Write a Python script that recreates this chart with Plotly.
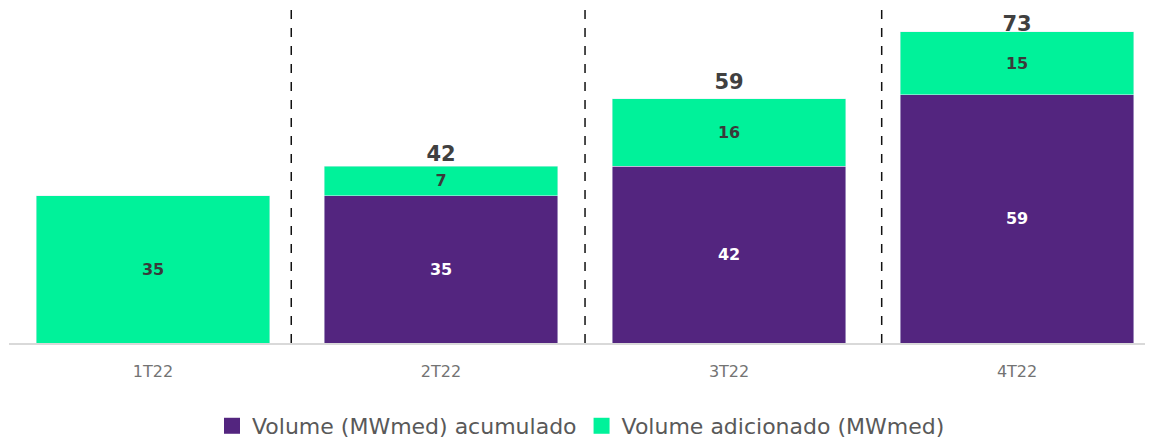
import plotly.graph_objects as go

categories = ["1T22", "2T22", "3T22", "4T22"]
acumulado = [0, 35, 42, 59]
adicionado = [35, 7, 16, 15]
total_labels = [None, 42, 59, 73]
separators = [0.48, 1.5, 2.53]

PURPLE = "#53257F"
GREEN = "#00F29A"
FONT = "DejaVu Sans"

fig = go.Figure()

fig.add_trace(go.Bar(
    x=categories, y=acumulado, marker_color=PURPLE, showlegend=False,
    text=[str(v) if v else "" for v in acumulado], textposition="inside",
    insidetextanchor="middle",
    textfont=dict(color="white", size=16, family=FONT, weight="bold"),
    width=0.81, hoverinfo="skip",
))
fig.add_trace(go.Bar(
    x=categories, y=adicionado, marker_color=GREEN, showlegend=False,
    text=[str(v) for v in adicionado], textposition="inside",
    insidetextanchor="middle",
    textfont=dict(color="#3a3a3a", size=16, family=FONT, weight="bold"),
    width=0.81, hoverinfo="skip",
))
# totals
tx = [c for c, t in zip(categories, total_labels) if t is not None]
ty = [t for t in total_labels if t is not None]
fig.add_trace(go.Scatter(
    x=tx, y=ty, mode="text",
    text=[str(t) for t in ty], textposition="top center",
    textfont=dict(color="#404040", size=21, family=FONT, weight="bold"),
    showlegend=False, hoverinfo="skip", cliponaxis=False,
))
# legend proxies
fig.add_trace(go.Scatter(x=[None], y=[None], mode="markers", name="Volume (MWmed) acumulado",
                         marker=dict(symbol="square", size=20, color=PURPLE)))
fig.add_trace(go.Scatter(x=[None], y=[None], mode="markers", name="Volume adicionado (MWmed)",
                         marker=dict(symbol="square", size=20, color=GREEN)))

for s in separators:
    fig.add_shape(type="line", xref="x", yref="paper", x0=s, x1=s, y0=0, y1=1,
                  line=dict(color="#111111", width=1.5, dash="dash"))

fig.update_layout(
    width=1145, height=435,
    barmode="stack",
    plot_bgcolor="white", paper_bgcolor="white",
    margin=dict(l=1, r=0, t=0, b=100, autoexpand=False),
    font=dict(family=FONT),
    xaxis=dict(
        type="category", range=[-0.5, 3.472],
        showline=True, linecolor="#d9d9d9", linewidth=1.5,
        tickfont=dict(size=16, color="#737373", family=FONT),
        ticks="", showgrid=False, ticklabelstandoff=13,
    ),
    yaxis=dict(range=[0, 79.6], visible=False, showgrid=False, zeroline=False),
    legend=dict(orientation="h", x=0.5, xanchor="center", y=-0.185, yanchor="top",
                traceorder="normal",
                font=dict(size=22, color="#595959", family=FONT)),
)

fig.write_html("out.html")
